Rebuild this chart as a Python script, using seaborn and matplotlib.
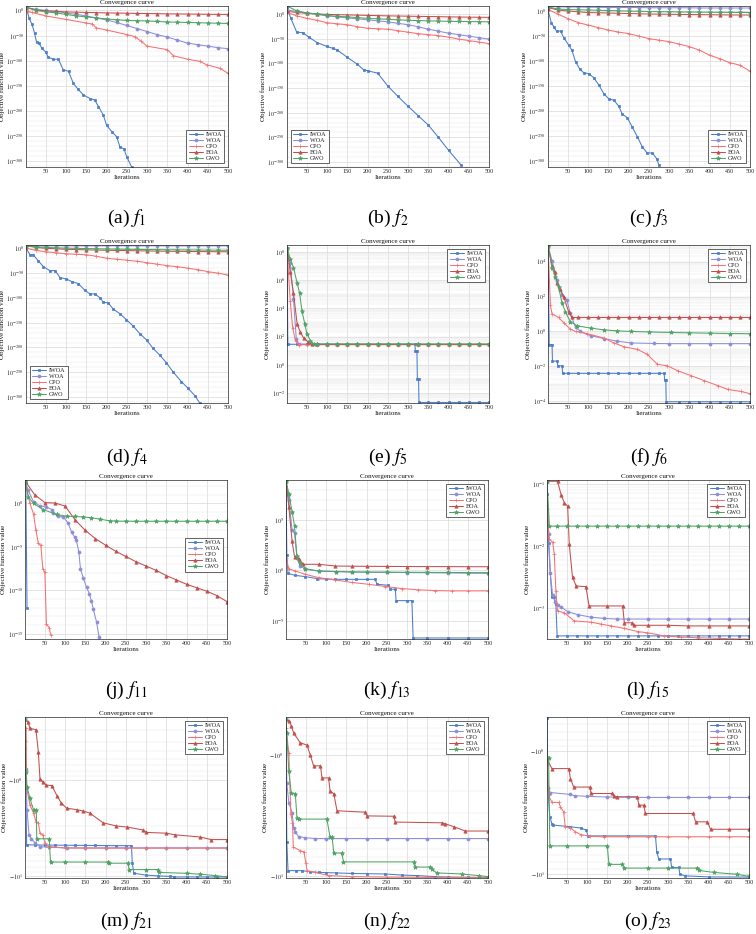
import numpy as np
import pandas as pd
import matplotlib
matplotlib.use("Agg")
import matplotlib.pyplot as plt
import seaborn as sns
from matplotlib.ticker import FixedLocator, FuncFormatter

sns.set_theme(style="white")
plt.rcParams["font.family"] = ["Liberation Serif", "DejaVu Serif"]
plt.rcParams["mathtext.fontset"] = "stix"

# ---------------- data (log10 of objective value, or raw negative values for f21-f23) ----------------
ALGOS = ["IWOA", "WOA", "CPO", "BOA", "GWO"]
IT25 = [1, 25, 50, 75, 100, 125, 150, 175, 200, 225, 250, 275, 300, 325, 350, 375, 400, 425, 450, 475, 500]

# f1
F1_IWOA_IT = [1, 9, 16, 22, 27, 33, 40, 50, 56, 68, 81, 93, 106, 118, 130, 143, 159, 171, 180, 192, 200, 213, 225, 233, 243, 250, 262]
F1_IWOA = [7, -16, -28, -45, -63, -65, -75, -83, -93, -97, -97, -118, -121, -145, -157, -168, -175, -178, -191, -208, -228, -241, -251, -271, -275, -291, -311]
F1_WOA = [6, 2, 0, -2, -5, -8, -11, -15, -19, -24, -30, -36, -42, -48, -53, -59, -65, -68, -71, -74, -76]
F1_CPO_IT = [1, 5, 15, 50, 100, 150, 165, 175, 200, 250, 270, 285, 300, 350, 365, 400, 430, 447, 480, 500]
F1_CPO = [2, -2, -4, -11, -18, -25, -27, -35, -39, -48, -52, -61, -71, -78, -90, -97, -101, -108, -115, -125]
F1_BOA = [6, 1, -1, -2, -3, -3.5, -4, -4.5, -5, -5.3, -5.6, -6, -6.3, -6.6, -6.9, -7.1, -7.3, -7.5, -7.7, -7.9, -8]
F1_GWO = [6, 0, -3, -5, -8, -11, -13, -15, -17, -18.5, -20, -20.5, -21, -22, -23, -23.5, -24, -24.5, -25, -25.5, -26]

# f2
F2_IWOA_IT = [1, 10, 25, 40, 55, 75, 100, 115, 125, 150, 175, 190, 200, 225, 250, 275, 300, 325, 350, 375, 400, 431]
F2_IWOA = [13, -8, -37, -38, -47, -58, -66, -70, -73, -88, -102, -113, -115, -120, -146, -167, -187, -206, -225, -250, -276, -306]
F2_WOA = [8, 5, 2, -1, -4, -6, -8, -10, -12, -14, -16, -19, -22, -26, -31, -35, -39, -42, -45, -48, -51]
F2_CPO = [3, -4, -9, -13, -18, -20, -22, -26, -29, -30, -31, -34, -37, -40, -42, -44, -47, -51, -54, -57, -60]
F2_BOA = [5, 3, 1, 0, -1, -1.5, -2, -2.5, -3, -3.5, -4, -4.3, -4.6, -5, -5.3, -5.6, -6, -6.3, -6.6, -6.8, -7]
F2_GWO = [16, 6, 2, 0, -3, -5, -6, -7.5, -9, -10, -11, -12, -13, -13.5, -14, -14.5, -15, -15.3, -15.6, -15.8, -16]

# f3
F3_IWOA_IT = [1, 9, 15, 22, 32, 40, 52, 60, 69, 79, 89, 102, 114, 127, 139, 151, 164, 176, 184, 197, 209, 222, 234, 246, 259, 270, 275]
F3_IWOA = [2, -23, -31, -40, -40, -53, -68, -78, -101, -115, -123, -125, -133, -148, -165, -175, -178, -190, -205, -213, -231, -251, -271, -283, -283, -295, -308]
F3_WOA = [9, 8.5, 8, 8, 7.5, 7.5, 7, 7, 7, 7, 6.5, 6.5, 6.5, 6.5, 6.5, 6, 6, 6, 6, 6, 6]
F3_CPO = [3, -6, -15, -23, -28, -33, -38, -42, -45, -50, -55, -58, -61, -66, -71, -78, -88, -95, -103, -108, -120]
F3_BOA = [7, 2, 0, -1.5, -3, -3.5, -4, -4.5, -5, -5.5, -6, -6.2, -6.5, -6.8, -7, -7.2, -7.4, -7.6, -7.8, -7.9, -8]
F3_GWO = [8, 4, 3, 2.5, 2, 1.5, 1, 0.5, 0, -0.5, -1, -1.3, -1.6, -1.9, -2.1, -2.3, -2.5, -2.7, -2.8, -2.9, -3]

# f4
F4_IWOA_IT = [1, 11, 19, 31, 44, 60, 73, 85, 101, 114, 130, 147, 159, 171, 184, 192, 204, 216, 233, 249, 266, 282, 299, 315, 331, 348, 364, 385, 401, 418, 430]
F4_IWOA = [0, -13, -13, -25, -37, -45, -45, -59, -62, -67, -71, -85, -92, -92, -100, -109, -110, -122, -132, -144, -157, -172, -185, -202, -215, -231, -249, -269, -282, -297, -312]
F4_WOA = [5.2, 5.1, 5.0, 5.0, 5.0, 5.0, 5.0, 5.0, 5.0, 5.0, 5.0, 5.0, 5.0, 5.0, 5.0, 5.0, 5.0, 5.0, 5.0, 5.0, 5.0]
F4_CPO = [0, -4, -7, -9, -11, -12, -13, -16, -20, -22, -24, -26, -29, -32, -35, -37, -40, -43, -47, -50, -54]
F4_BOA = [5, 2, 0, -1, -2, -2.5, -3, -3.5, -4, -4.3, -4.6, -5, -5.3, -5.6, -5.9, -6.1, -6.3, -6.5, -6.7, -6.9, -7]
F4_GWO = [5, 3, 2, 1, 0.5, 0, -0.5, -1, -1.3, -1.6, -2, -2.2, -2.4, -2.6, -2.8, -3, -3.2, -3.4, -3.6, -3.8, -4]

# f5
F5_IWOA_IT = [1, 3, 25, 50, 75, 100, 125, 150, 175, 200, 225, 250, 275, 300, 317, 318, 322, 323, 326, 327, 350, 375, 400, 425, 450, 475, 500]
F5_IWOA = [8.3, 1.45, 1.45, 1.45, 1.45, 1.45, 1.45, 1.45, 1.45, 1.45, 1.45, 1.45, 1.45, 1.45, 1.45, 1.0, 1.0, -1.0, -1.0, -2.68, -2.68, -2.68, -2.68, -2.68, -2.68, -2.68, -2.68]
F5_WOA_IT = [1, 9, 17, 24, 30, 50, 75, 100, 125, 150, 175, 200, 225, 250, 275, 300, 325, 350, 375, 400, 425, 450, 475, 500]
F5_WOA = [8.3, 7.2, 4.7, 1.8, 1.45, 1.45, 1.45, 1.45, 1.45, 1.45, 1.45, 1.45, 1.45, 1.45, 1.45, 1.45, 1.45, 1.45, 1.45, 1.45, 1.45, 1.45, 1.45, 1.45]
F5_CPO_IT = [1, 9, 15, 22, 30, 50, 75, 100, 125, 150, 175, 200, 225, 250, 275, 300, 325, 350, 375, 400, 425, 450, 475, 500]
F5_CPO = [8.3, 4.5, 2.6, 1.7, 1.42, 1.42, 1.42, 1.42, 1.42, 1.42, 1.42, 1.42, 1.42, 1.42, 1.42, 1.42, 1.42, 1.42, 1.42, 1.42, 1.42, 1.42, 1.42, 1.42]
F5_BOA_IT = [1, 9, 17, 26, 34, 42, 54, 63, 75, 100, 125, 150, 175, 200, 225, 250, 275, 300, 325, 350, 375, 400, 425, 450, 475, 500]
F5_BOA = [8.3, 6.6, 5.1, 2.9, 2.3, 1.9, 1.6, 1.44, 1.44, 1.44, 1.44, 1.44, 1.44, 1.44, 1.44, 1.44, 1.44, 1.44, 1.44, 1.44, 1.44, 1.44, 1.44, 1.44, 1.44, 1.44]
F5_GWO_IT = [1, 9, 17, 26, 32, 38, 45, 50, 59, 67, 75, 100, 125, 150, 175, 200, 225, 250, 275, 300, 325, 350, 375, 400, 425, 450, 475, 500]
F5_GWO = [8.3, 7.5, 6.9, 5.8, 5.1, 3.8, 2.9, 2.2, 1.7, 1.47, 1.47, 1.47, 1.47, 1.47, 1.47, 1.47, 1.47, 1.47, 1.47, 1.47, 1.47, 1.47, 1.47, 1.47, 1.47, 1.47, 1.47, 1.47]

# f6
F6_IWOA_IT = [1, 4, 11, 12, 24, 25, 36, 37, 50, 75, 100, 125, 150, 175, 200, 225, 250, 275, 288, 289, 292, 293, 325, 350, 375, 400, 425, 450, 475, 500]
F6_IWOA = [4.9, -0.75, -0.75, -1.7, -1.7, -1.97, -1.97, -2.4, -2.4, -2.4, -2.4, -2.4, -2.4, -2.4, -2.4, -2.4, -2.4, -2.4, -2.4, -2.78, -2.78, -4.03, -4.03, -4.03, -4.03, -4.03, -4.03, -4.03, -4.03, -4.03]
F6_WOA_IT = [1, 11, 23, 36, 48, 56, 69, 81, 106, 139, 172, 205, 263, 300, 350, 400, 450, 500]
F6_WOA = [4.9, 4.04, 2.95, 2.07, 1.78, 1.03, 0.24, 0.0, -0.24, -0.41, -0.56, -0.66, -0.69, -0.7, -0.7, -0.7, -0.7, -0.7]
F6_CPO_IT = [1, 7, 11, 27, 40, 56, 69, 98, 139, 164, 189, 222, 246, 271, 296, 321, 354, 387, 420, 445, 478, 500]
F6_CPO = [4.9, 1.5, 1.0, 0.8, 0.5, 0.13, 0.0, -0.13, -0.38, -0.66, -0.88, -1.03, -1.31, -1.88, -1.97, -2.25, -2.53, -2.82, -3.1, -3.32, -3.44, -3.57]
F6_BOA_IT = [1, 11, 19, 23, 31, 40, 52, 60, 75, 100, 125, 150, 175, 200, 225, 250, 275, 300, 325, 350, 375, 400, 425, 450, 475, 500]
F6_BOA = [4.9, 3.76, 3.38, 2.76, 2.44, 1.97, 1.13, 0.8, 0.8, 0.8, 0.8, 0.8, 0.8, 0.8, 0.8, 0.8, 0.8, 0.8, 0.8, 0.8, 0.8, 0.8, 0.8, 0.8, 0.8, 0.8]
F6_GWO_IT = [1, 11, 19, 27, 36, 44, 56, 73, 106, 139, 172, 205, 250, 304, 350, 400, 450, 500]
F6_GWO = [4.9, 3.66, 3.1, 2.54, 1.6, 1.13, 0.56, 0.32, 0.19, 0.09, 0.03, 0.0, -0.03, -0.06, -0.08, -0.1, -0.12, -0.13]

# f11
F11_IWOA_IT = [1, 3, 6]
F11_IWOA = [2.6, 2.3, -12.0]
F11_WOA_IT = [1, 9, 22, 38, 54, 67, 71, 83, 96, 108, 116, 124, 128, 134, 138, 145, 153, 160, 165, 170, 178, 184]
F11_WOA = [2.6, 1.5, 0.2, -0.3, -0.4, -0.7, -1.1, -1.5, -1.55, -2.3, -3.3, -3.9, -4.25, -5.6, -7.5, -8.6, -9.65, -10.4, -11.2, -12.2, -13.7, -15.4]
F11_CPO_IT = [1, 13, 22, 28, 34, 40, 45, 50, 54, 61, 64]
F11_CPO = [2.6, 0.0, -1.2, -3.1, -4.6, -4.8, -7.5, -7.9, -13.9, -14.3, -15.1]
F11_BOA = [2.6, 1.0, 0.1, 0.05, -0.3, -1.9, -3.1, -4.05, -4.8, -5.5, -6.1, -6.7, -7.2, -7.7, -8.3, -8.8, -9.3, -9.7, -10.1, -10.6, -11.3]
F11_GWO_IT = [1, 9, 22, 46, 79, 104, 125, 145, 165, 186, 210, 225, 250, 275, 300, 325, 350, 375, 400, 425, 450, 475, 500]
F11_GWO = [2.6, 0.77, 0.0, -0.7, -1.27, -1.47, -1.5, -1.55, -1.65, -1.8, -2.0, -2.03, -2.05, -2.05, -2.05, -2.05, -2.05, -2.05, -2.05, -2.05, -2.05, -2.05, -2.05]

# f13
F13_IWOA_IT = [1, 3, 6, 24, 49, 78, 100, 123, 150, 175, 200, 221, 226, 254, 259, 271, 273, 300, 312, 315, 350, 400, 450, 500]
F13_IWOA = [8.9, 1.57, -0.3, -0.5, -0.62, -0.82, -0.86, -0.89, -0.89, -0.89, -0.89, -0.89, -1.38, -1.48, -1.87, -1.87, -3.0, -3.0, -3.0, -6.7, -6.7, -6.7, -6.7, -6.7]
F13_WOA_IT = [1, 8, 16, 22, 28, 36, 49, 82, 125, 164, 200, 250, 300, 350, 400, 450, 500]
F13_WOA = [8.9, 7.0, 4.0, 3.7, 1.25, 0.43, 0.1, -0.07, -0.12, -0.16, -0.18, -0.2, -0.22, -0.24, -0.26, -0.28, -0.3]
F13_CPO_IT = [1, 8, 24, 49, 82, 123, 164, 205, 246, 287, 328, 369, 410, 450, 500]
F13_CPO = [1.25, 0.16, -0.07, -0.4, -0.72, -0.95, -1.2, -1.38, -1.6, -1.8, -1.93, -2.0, -2.03, -2.03, -2.03]
F13_BOA_IT = [1, 8, 16, 22, 32, 44, 82, 123, 164, 200, 250, 300, 350, 400, 450, 500]
F13_BOA = [8.9, 6.3, 2.9, 1.35, 1.15, 0.6, 0.6, 0.43, 0.41, 0.4, 0.39, 0.38, 0.37, 0.37, 0.36, 0.36]
F13_GWO_IT = [1, 8, 16, 22, 28, 36, 49, 82, 125, 164, 200, 250, 300, 350, 400, 450, 500]
F13_GWO = [8.9, 7.6, 5.8, 4.4, 1.4, 0.75, 0.16, -0.07, -0.12, -0.16, -0.17, -0.18, -0.19, -0.2, -0.21, -0.22, -0.23]

# f15
F15_IWOA_IT = [1, 5, 9, 13, 19, 23, 26, 50, 75, 100, 125, 150, 175, 200, 225, 250, 275, 300, 325, 350, 375, 400, 425, 450, 475, 500]
F15_IWOA = [-1.16, -1.95, -2.43, -2.82, -2.82, -2.93, -3.44, -3.44, -3.44, -3.44, -3.44, -3.44, -3.44, -3.44, -3.44, -3.44, -3.44, -3.44, -3.44, -3.44, -3.44, -3.44, -3.44, -3.44, -3.44, -3.44]
F15_WOA_IT = [1, 5, 9, 15, 21, 27, 36, 52, 77, 110, 142, 175, 200, 250, 300, 350, 400, 450, 500]
F15_WOA = [-0.96, -1.81, -2.43, -2.79, -2.9, -2.95, -2.98, -3.05, -3.1, -3.14, -3.16, -3.17, -3.17, -3.17, -3.17, -3.17, -3.17, -3.17, -3.17]
F15_CPO_IT = [1, 7, 15, 19, 23, 27, 44, 68, 110, 134, 159, 192, 225, 249, 290, 331, 375, 425, 475, 500]
F15_CPO = [-1.41, -1.89, -1.94, -2.13, -2.72, -3.04, -3.07, -3.2, -3.22, -3.25, -3.28, -3.32, -3.37, -3.39, -3.44, -3.46, -3.47, -3.48, -3.49, -3.49]
F15_BOA_IT = [1, 27, 36, 44, 52, 56, 64, 73, 97, 105, 150, 188, 192, 212, 216, 250, 300, 350, 400, 450, 500]
F15_BOA = [-0.96, -0.96, -1.18, -1.31, -1.36, -1.97, -2.5, -2.64, -2.65, -2.96, -2.96, -2.96, -3.23, -3.23, -3.27, -3.27, -3.27, -3.28, -3.28, -3.28, -3.28]
F15_GWO_IT = [1, 7, 25, 50, 75, 100, 125, 150, 175, 200, 225, 250, 275, 300, 325, 350, 375, 400, 425, 450, 475, 500]
F15_GWO = [-0.96, -1.68, -1.68, -1.68, -1.68, -1.68, -1.68, -1.68, -1.68, -1.68, -1.68, -1.68, -1.68, -1.68, -1.68, -1.68, -1.68, -1.68, -1.68, -1.68, -1.68, -1.68]

# f21 (objective values, negative)
F21_IWOA_IT = [1, 3, 5, 25, 50, 75, 100, 125, 150, 175, 200, 225, 250, 264, 266, 270, 300, 330, 360, 370, 400, 425, 450, 475, 500]
F21_IWOA = [-0.47, -1.2, -4.7, -4.72, -4.73, -4.74, -4.75, -4.76, -4.77, -4.78, -4.79, -4.8, -4.8, -4.8, -7.3, -9.3, -9.7, -9.9, -10.0, -10.15, -10.15, -10.15, -10.15, -10.15, -10.15]
F21_WOA_IT = [1, 3, 6, 11, 17, 26, 38, 60, 104, 150, 200, 250, 300, 350, 400, 450, 500]
F21_WOA = [-0.39, -0.76, -2.04, -3.7, -4.07, -4.5, -4.9, -5.0, -5.05, -5.055, -5.055, -5.055, -5.055, -5.055, -5.055, -5.055, -5.055]
F21_CPO_IT = [1, 4, 5, 13, 22, 28, 34, 38, 45, 50, 59, 100, 150, 200, 250, 300, 350, 400, 450, 500]
F21_CPO = [-0.29, -0.29, -1.19, -1.8, -2.2, -2.7, -2.76, -3.56, -3.7, -4.5, -4.9, -5.08, -5.1, -5.1, -5.1, -5.1, -5.1, -5.1, -5.1, -5.1]
F21_BOA_IT = [1, 9, 13, 28, 34, 38, 45, 54, 67, 81, 91, 104, 129, 145, 161, 194, 227, 252, 293, 301, 350, 371, 433, 461, 500]
F21_BOA = [-0.23, -0.25, -0.29, -0.3, -0.51, -0.98, -1.04, -1.13, -1.14, -1.48, -1.74, -1.96, -2.03, -2.1, -2.2, -2.78, -3.0, -3.07, -3.3, -3.5, -3.56, -3.7, -3.9, -4.15, -4.15]
F21_GWO_IT = [1, 3, 6, 13, 22, 29, 30, 61, 64, 100, 150, 206, 209, 256, 258, 300, 330, 332, 400, 433, 470, 500]
F21_GWO = [-0.23, -0.82, -1.17, -1.55, -2.03, -2.03, -4.07, -4.07, -7.1, -7.1, -7.1, -7.1, -7.3, -7.3, -8.5, -8.5, -8.5, -9.1, -9.3, -9.5, -9.8, -10.15]

# f22
F22_IWOA_IT = [1, 3, 6, 25, 41, 60, 82, 100, 125, 164, 200, 246, 287, 325, 369, 400, 450, 500]
F22_IWOA = [-0.88, -5.3, -9.1, -9.1, -9.1, -9.3, -9.4, -9.45, -9.5, -9.6, -9.65, -9.7, -9.9, -10.0, -10.2, -10.3, -10.35, -10.4]
F22_WOA_IT = [1, 3, 8, 16, 20, 24, 32, 49, 73, 100, 150, 200, 250, 300, 350, 400, 450, 500]
F22_WOA = [-0.64, -1.71, -2.5, -3.0, -4.0, -4.35, -4.75, -4.85, -4.93, -4.93, -4.93, -4.93, -4.93, -4.93, -4.93, -4.93, -4.93, -4.93]
F22_CPO_IT = [1, 8, 13, 17, 19, 36, 45, 50, 53, 73, 106, 164, 250, 350, 500]
F22_CPO = [-0.6, -0.97, -3.1, -3.65, -5.8, -6.2, -6.35, -7.8, -9.1, -9.4, -10.0, -10.2, -10.3, -10.35, -10.4]
F22_BOA_IT = [1, 8, 14, 20, 36, 53, 61, 69, 86, 90, 106, 110, 119, 127, 197, 201, 267, 271, 386, 393, 415, 444, 500]
F22_BOA = [-0.5, -0.52, -0.57, -0.66, -0.79, -0.83, -1.0, -1.23, -1.23, -1.55, -1.55, -2.0, -2.09, -2.9, -2.98, -3.2, -3.22, -3.6, -3.65, -3.7, -3.93, -4.27, -4.27]
F22_GWO_IT = [1, 3, 8, 14, 24, 28, 32, 102, 110, 115, 119, 139, 143, 316, 320, 357, 361, 374, 435, 477, 500]
F22_GWO = [-0.5, -0.66, -1.37, -2.07, -2.09, -3.3, -3.4, -3.4, -4.83, -4.83, -6.5, -6.5, -7.7, -7.7, -8.5, -8.5, -8.9, -9.5, -9.7, -10.0, -10.2]

# f23
F23_IWOA_IT = [1, 3, 8, 13, 17, 59, 84, 98, 102, 141, 200, 269, 272, 277, 306, 309, 327, 329, 343, 400, 500]
F23_IWOA = [-0.53, -2.0, -3.4, -3.86, -3.98, -4.1, -4.2, -4.37, -4.87, -4.87, -4.87, -4.87, -6.54, -7.5, -7.5, -8.8, -8.8, -9.98, -10.3, -10.5, -10.53]
F23_WOA_IT = [1, 3, 9, 59, 69, 100, 150, 200, 250, 300, 350, 400, 450, 500]
F23_WOA = [-1.26, -2.0, -2.16, -2.24, -2.29, -2.32, -2.35, -2.36, -2.37, -2.37, -2.37, -2.37, -2.37, -2.37]
F23_CPO_IT = [1, 5, 13, 30, 34, 42, 46, 59, 71, 84, 108, 141, 200, 250, 300, 350, 400, 450, 500]
F23_CPO = [-1.15, -2.27, -2.6, -2.6, -2.82, -3.1, -4.1, -4.2, -4.5, -4.75, -4.9, -4.95, -4.95, -4.95, -4.95, -4.95, -4.95, -4.95, -4.95]
F23_BOA_IT = [1, 13, 55, 59, 67, 107, 110, 162, 166, 174, 224, 228, 240, 244, 362, 368, 397, 405, 450, 500]
F23_BOA = [-1.15, -1.38, -1.38, -1.67, -1.95, -1.95, -2.2, -2.2, -2.3, -2.34, -2.34, -2.74, -2.74, -3.2, -3.2, -3.74, -3.74, -4.3, -4.3, -4.3]
F23_GWO_IT = [1, 5, 8, 50, 100, 150, 154, 187, 191, 250, 300, 372, 376, 413, 471, 500]
F23_GWO = [-1.11, -1.13, -5.87, -5.87, -5.87, -5.87, -8.3, -8.3, -8.9, -8.9, -8.9, -8.9, -9.3, -9.65, -10.0, -10.4]

PANEL_LETTERS = ["a", "b", "c", "d", "e", "f", "j", "k", "l", "m", "n", "o"]
FUNC_NUMBERS = ["1", "2", "3", "4", "5", "6", "11", "13", "15", "21", "22", "23"]
XTICKS = [50, 100, 150, 200, 250, 300, 350, 400, 450, 500]

SERIES = [
    [(F1_IWOA_IT, F1_IWOA), (IT25, F1_WOA), (F1_CPO_IT, F1_CPO), (IT25, F1_BOA), (IT25, F1_GWO)],
    [(F2_IWOA_IT, F2_IWOA), (IT25, F2_WOA), (IT25, F2_CPO), (IT25, F2_BOA), (IT25, F2_GWO)],
    [(F3_IWOA_IT, F3_IWOA), (IT25, F3_WOA), (IT25, F3_CPO), (IT25, F3_BOA), (IT25, F3_GWO)],
    [(F4_IWOA_IT, F4_IWOA), (IT25, F4_WOA), (IT25, F4_CPO), (IT25, F4_BOA), (IT25, F4_GWO)],
    [(F5_IWOA_IT, F5_IWOA), (F5_WOA_IT, F5_WOA), (F5_CPO_IT, F5_CPO), (F5_BOA_IT, F5_BOA), (F5_GWO_IT, F5_GWO)],
    [(F6_IWOA_IT, F6_IWOA), (F6_WOA_IT, F6_WOA), (F6_CPO_IT, F6_CPO), (F6_BOA_IT, F6_BOA), (F6_GWO_IT, F6_GWO)],
    [(F11_IWOA_IT, F11_IWOA), (F11_WOA_IT, F11_WOA), (F11_CPO_IT, F11_CPO), (IT25, F11_BOA), (F11_GWO_IT, F11_GWO)],
    [(F13_IWOA_IT, F13_IWOA), (F13_WOA_IT, F13_WOA), (F13_CPO_IT, F13_CPO), (F13_BOA_IT, F13_BOA), (F13_GWO_IT, F13_GWO)],
    [(F15_IWOA_IT, F15_IWOA), (F15_WOA_IT, F15_WOA), (F15_CPO_IT, F15_CPO), (F15_BOA_IT, F15_BOA), (F15_GWO_IT, F15_GWO)],
    [(F21_IWOA_IT, F21_IWOA), (F21_WOA_IT, F21_WOA), (F21_CPO_IT, F21_CPO), (F21_BOA_IT, F21_BOA), (F21_GWO_IT, F21_GWO)],
    [(F22_IWOA_IT, F22_IWOA), (F22_WOA_IT, F22_WOA), (F22_CPO_IT, F22_CPO), (F22_BOA_IT, F22_BOA), (F22_GWO_IT, F22_GWO)],
    [(F23_IWOA_IT, F23_IWOA), (F23_WOA_IT, F23_WOA), (F23_CPO_IT, F23_CPO), (F23_BOA_IT, F23_BOA), (F23_GWO_IT, F23_GWO)],
]

# ---------------- styling / layout ----------------
COLORS = {"IWOA": "#4a7cc9", "WOA": "#8e8ed8", "CPO": "#f47272", "BOA": "#c0504d", "GWO": "#4fa465"}
MARKERS = {"IWOA": "s", "WOA": "o", "CPO": "+", "BOA": "^", "GWO": "*"}
MSIZE = {"IWOA": 2.0, "WOA": 2.2, "CPO": 3.2, "BOA": 2.4, "GWO": 3.2}

KIND = ["exp"] * 9 + ["neg"] * 3
YLIMS = [(-311, 8.7), (-310, 16), (-311, 10), (-312, 6.7), (-2.72, 8.5), (-4.1, 4.95),
         (-15.6, 2.7), (-6.8, 8.95), (-3.49, -0.94), (-1.017, 0.655), (-1.02, 0.315), (-1.03, 0.28)]
YMAJOR = [list(range(-300, 1, 50))] * 4 + [[-2, 0, 2, 4, 6, 8], [-4, -2, 0, 2, 4], [-15, -10, -5, 0],
                                           [-5, 0, 5], [-3, -2, -1], [-1, 0], [-1, 0], [-1, 0]]
MINOR_MODE = ["ten"] * 4 + ["log", "log", "dec", "dec", "log", "neg", "neg", "neg"]
LEG_LOC = ["lower right", "lower left", "lower right", "lower left", "upper right", "upper right",
           "center right", "upper right", "upper right", "upper right", "upper right", "upper right"]

W, H = 756, 934
ROWS = [(6, 167), (245, 403), (480, 639), (717, 878)]
COLS_TOP = [(26, 228), (287, 489), (548, 750)]
COLS_BOT = [(25, 227), (286, 488), (547, 749)]
CAPTION_Y = [218, 457, 690, 921]

fig = plt.figure(figsize=(7.56, 9.34), dpi=100)
fig.patch.set_facecolor("white")

FS = 4.4
for i, letter in enumerate(PANEL_LETTERS):
    r, c = divmod(i, 3)
    t, b = ROWS[r]
    l, rr = (COLS_TOP if r < 2 else COLS_BOT)[c]
    ax = fig.add_axes([l / W, 1 - b / H, (rr - l) / W, (b - t) / H])
    kind = KIND[i]
    for alg, (it, vals) in zip(ALGOS, SERIES[i]):
        if kind == "neg":
            y = [-np.log10(-v) for v in vals]
        else:
            y = list(vals)
        df = pd.DataFrame({"Iterations": it, "value": y})
        col = COLORS[alg]
        sns.lineplot(data=df, x="Iterations", y="value", ax=ax, estimator=None, sort=False,
                     color=col, linewidth=0.75, marker=MARKERS[alg], markersize=MSIZE[alg],
                     markeredgecolor=col, markerfacecolor=col, markeredgewidth=0.5, label=alg)
    ax.set_xlim(1, 500)
    ax.set_ylim(*YLIMS[i])
    ax.xaxis.set_major_locator(FixedLocator(XTICKS))
    ax.yaxis.set_major_locator(FixedLocator(YMAJOR[i]))
    lo, hi = YLIMS[i]
    mode = MINOR_MODE[i]
    if mode == "ten":
        minor = [v for v in range(-310, 20, 10) if v % 50 != 0]
    elif mode == "dec":
        minor = list(range(int(np.floor(lo)), int(np.ceil(hi)) + 1))
    elif mode == "log":
        minor = [d + np.log10(k) for d in range(int(np.floor(lo)) - 1, int(np.ceil(hi)) + 1) for k in range(1, 10)]
    else:
        minor = [-np.log10(k) for k in range(2, 10)] + [-np.log10(k / 10) for k in range(2, 10)]
    minor = [m for m in minor if lo <= m <= hi]
    ax.yaxis.set_minor_locator(FixedLocator(minor))
    if kind == "neg":
        ax.yaxis.set_major_formatter(FuncFormatter(lambda v, p: r"$-10^{%d}$" % int(round(-v))))
    else:
        ax.yaxis.set_major_formatter(FuncFormatter(lambda v, p: r"$10^{%d}$" % int(round(v))))
    ax.grid(True, which="major", axis="both", color="#d4d4d4", linewidth=0.45)
    ax.grid(True, which="minor", axis="y", color="#e8e8e8", linewidth=0.35)
    ax.set_axisbelow(True)
    ax.tick_params(axis="both", which="major", direction="in", length=1.6, width=0.4,
                   labelsize=FS, pad=1.5, colors="#262626")
    ax.tick_params(axis="y", which="minor", direction="in", length=0.8, width=0.3)
    for s in ax.spines.values():
        s.set_linewidth(0.5)
        s.set_color("#262626")
        s.set_visible(True)
    ax.set_title("Convergence curve", fontsize=5.0, pad=1.2, color="#111111")
    ax.set_xlabel("Iterations", fontsize=5.0, labelpad=1.0, color="#111111")
    ax.set_ylabel("Objective function value", fontsize=5.0, labelpad=1.0, color="#111111")
    leg_kw = dict(loc=LEG_LOC[i], fontsize=FS, frameon=True, fancybox=False, framealpha=1,
                  edgecolor="#262626", handlelength=2.3, handletextpad=0.5, borderpad=0.35,
                  labelspacing=0.12, borderaxespad=0.6)
    if LEG_LOC[i] == "center right":
        leg_kw["bbox_to_anchor"] = (1.0, 0.53)
    leg = ax.legend(**leg_kw)
    leg.get_frame().set_linewidth(0.5)

    xc = (l + rr) / 2 / W
    fig.text(xc, 1 - CAPTION_Y[r] / H, r"(%s) $f_{%s}$" % (letter, FUNC_NUMBERS[i]),
             ha="center", va="center", fontsize=14, color="black")

fig.savefig("out.png", dpi=100, facecolor="white")
